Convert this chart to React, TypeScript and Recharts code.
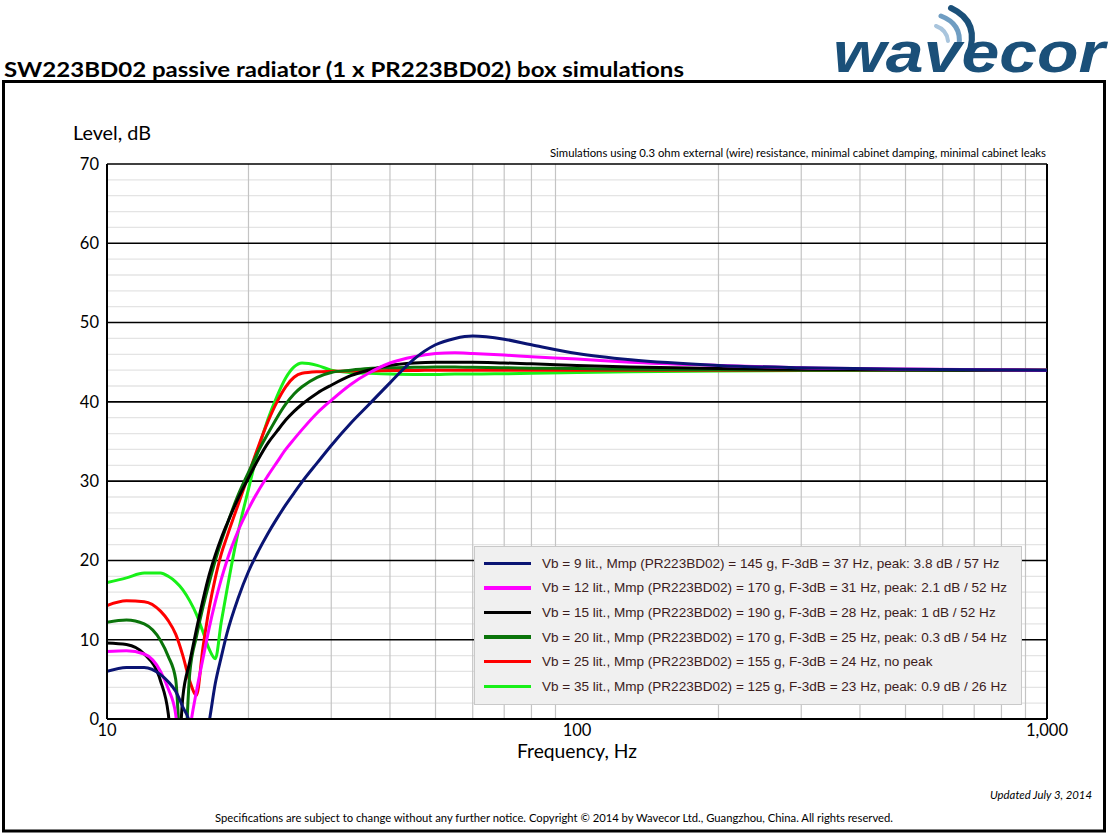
import React from 'react';
import { LineChart, Line, XAxis, YAxis, ReferenceLine, Legend } from 'recharts';

// Frequency samples (Hz)
const frequencies = [10, 11, 12, 13, 13.5, 14, 14.5, 15, 15.5, 16, 16.5, 17, 17.5, 18, 19, 20, 21, 22, 23, 24, 25, 26, 28, 30, 33, 36, 40, 45, 50, 55, 60, 70, 80, 100, 130, 200, 300, 500, 1000];

// Levels (dB) per box volume
const vb9 = [6.0, 6.5, 6.5, 5.6, 4.7, 3.5, 1.5, -0.6, -12, -4, -0.3, 4.5, 7.8, 10.8, 15.2, 18.6, 21.2, 23.4, 25.3, 27.0, 28.5, 29.9, 32.3, 34.5, 37.3, 39.6, 42.4, 45.4, 47.2, 48.0, 48.3, 47.9, 47.2, 46.1, 45.3, 44.6, 44.3, 44.1, 44.0];
const vb12 = [8.5, 8.6, 8.2, 6.0, 3.8, 0.6, -10, -1.5, 3.5, 7.6, 11.5, 14.8, 17.6, 20.0, 23.7, 26.5, 28.8, 30.7, 32.4, 34.0, 35.3, 36.5, 38.6, 40.2, 42.2, 43.6, 44.9, 45.7, 46.1, 46.2, 46.1, 45.9, 45.7, 45.4, 45.0, 44.6, 44.3, 44.15, 44.0];
const vb15 = [9.6, 9.4, 8.2, 4.8, 0.7, -10, 2.8, 7.2, 11.3, 15.0, 18.2, 20.7, 22.8, 24.6, 27.8, 30.4, 32.8, 34.8, 36.3, 37.7, 38.8, 39.7, 41.1, 42.1, 43.3, 44.0, 44.6, 44.9, 45.0, 45.0, 45.0, 44.9, 44.8, 44.6, 44.4, 44.2, 44.1, 44.05, 44.0];
const vb20 = [12.2, 12.5, 12.0, 9.9, 7.9, 5.0, -8, 5.8, 10.4, 14.1, 17.2, 20.0, 22.4, 24.5, 28.2, 31.1, 33.8, 36.0, 38.0, 39.7, 41.0, 41.9, 43.1, 43.7, 44.0, 44.2, 44.3, 44.35, 44.4, 44.4, 44.35, 44.3, 44.25, 44.2, 44.1, 44.05, 44.0, 44.0, 44.0];
const vb25 = [14.3, 14.9, 14.8, 13.6, 12.4, 10.7, 8.0, 4.8, 3.0, 9.0, 14.0, 17.8, 20.8, 23.0, 27.0, 30.8, 34.4, 37.5, 40.0, 41.9, 43.1, 43.6, 43.8, 43.85, 43.9, 43.9, 43.95, 43.95, 44.0, 44.0, 44.0, 44.0, 44.0, 44.0, 44.0, 44.0, 44.0, 44.0, 44.0];
const vb35 = [17.2, 17.8, 18.4, 18.4, 18.0, 17.3, 16.3, 14.9, 13.2, 11.0, 8.8, 7.6, 12.2, 16.3, 23.5, 29.0, 34.0, 37.8, 40.7, 43.0, 44.4, 44.9, 44.6, 44.0, 43.7, 43.6, 43.5, 43.45, 43.45, 43.5, 43.5, 43.55, 43.6, 43.7, 43.8, 43.9, 43.95, 44.0, 44.0];

const seriesKeys = ['vb9', 'vb12', 'vb15', 'vb20', 'vb25', 'vb35'];
const seriesValues = [vb9, vb12, vb15, vb20, vb25, vb35];
const seriesNames = [
  'Vb = 9 lit., Mmp (PR223BD02) = 145 g, F-3dB = 37 Hz, peak: 3.8 dB / 57 Hz',
  'Vb = 12 lit., Mmp (PR223BD02) = 170 g, F-3dB = 31 Hz, peak: 2.1 dB / 52 Hz',
  'Vb = 15 lit., Mmp (PR223BD02) = 190 g, F-3dB = 28 Hz, peak: 1 dB / 52 Hz',
  'Vb = 20 lit., Mmp (PR223BD02) = 170 g, F-3dB = 25 Hz, peak: 0.3 dB / 54 Hz',
  'Vb = 25 lit., Mmp (PR223BD02) = 155 g, F-3dB = 24 Hz, no peak',
  'Vb = 35 lit., Mmp (PR223BD02) = 125 g, F-3dB = 23 Hz, peak: 0.9 dB / 26 Hz',
];
const seriesColors = ['#0a1473', '#ff00ff', '#000000', '#0a740a', '#ff0000', '#18f018'];

const levelTicks = [0, 10, 20, 30, 40, 50, 60, 70];
const majorLevels = [10, 20, 30, 40, 50, 60, 70];
const minorLevels = [2, 4, 6, 8, 12, 14, 16, 18, 22, 24, 26, 28, 32, 34, 36, 38, 42, 44, 46, 48, 52, 54, 56, 58, 62, 64, 66, 68];
const freqTicks = [10, 100, 1000];
const freqGrid = [20, 30, 40, 50, 60, 70, 80, 90, 200, 300, 400, 500, 600, 700, 800, 900];

const data = frequencies.map((f, i) => {
  const row: Record<string, number> = { f };
  seriesKeys.forEach((k, j) => {
    row[k] = seriesValues[j][i];
  });
  return row;
});

const CAL = 'Lato, "Open Sans", sans-serif';
const ARIAL = '"Liberation Sans", Arial, sans-serif';

const LegendBox = () => (
  <div
    style={{
      width: 548,
      height: 159,
      background: '#f0f0f0',
      border: '1px solid #c9c9c9',
      boxSizing: 'border-box',
      paddingTop: 4,
    }}
  >
    {seriesNames.map((name, i) => (
      <div key={name} style={{ display: 'flex', alignItems: 'center', height: 24.6 }}>
        <div style={{ width: 47, height: 3.5, background: seriesColors[i], marginLeft: 9, marginRight: 11 }} />
        <span style={{ fontFamily: ARIAL, fontSize: 13.55, color: '#3c1c1c', whiteSpace: 'nowrap' }}>{name}</span>
      </div>
    ))}
  </div>
);

export default function App() {
  const order = [5, 4, 3, 2, 1, 0];
  return (
    <div style={{ position: 'absolute', left: 0, top: 0, width: 1113, height: 837, background: '#fff' }}>
      <svg width={1113} height={837} style={{ position: 'absolute', left: 0, top: 0 }}>
        <text x={4} y={77} fontFamily={CAL} fontWeight={700} fontSize={20} textLength={680} lengthAdjust="spacingAndGlyphs" fill="#000">
          SW223BD02 passive radiator (1 x PR223BD02) box simulations
        </text>
        {/* logo */}
        <path d="M 936 26 Q 947 30 948 41" stroke="#a9c5dd" strokeWidth={4} fill="none" strokeLinecap="round" />
        <path d="M 941 16 Q 962 24 959 45" stroke="#6f9dc2" strokeWidth={5} fill="none" strokeLinecap="round" />
        <path d="M 951 8 Q 981 22 968 56" stroke="#1b5079" strokeWidth={6} fill="none" strokeLinecap="round" />
        <text x={833} y={72} fontFamily={ARIAL} fontStyle="italic" fontWeight={700} fontSize={58} textLength={272} lengthAdjust="spacingAndGlyphs" fill="#1b5079">
          wavecor
        </text>
        <rect x={3.5} y={81.5} width={1101} height={749.5} fill="none" stroke="#000" strokeWidth={3} />
        <text x={73} y={140} fontFamily={CAL} fontSize={18.5} textLength={78} lengthAdjust="spacingAndGlyphs" fill="#000">
          Level, dB
        </text>
        <text x={1046} y={157} textAnchor="end" fontFamily={CAL} fontSize={11} textLength={496} lengthAdjust="spacingAndGlyphs" fill="#000">
          Simulations using 0.3 ohm external (wire) resistance, minimal cabinet damping, minimal cabinet leaks
        </text>
        <text x={517} y={758} fontFamily={CAL} fontSize={19.5} textLength={120} lengthAdjust="spacingAndGlyphs" fill="#000">
          Frequency, Hz
        </text>
        <text x={990} y={799} fontFamily={CAL} fontStyle="italic" fontSize={11} textLength={102} lengthAdjust="spacingAndGlyphs" fill="#000">
          Updated July 3, 2014
        </text>
        <text x={215} y={822} fontFamily={CAL} fontSize={11} textLength={678} lengthAdjust="spacingAndGlyphs" fill="#000">
          Specifications are subject to change without any further notice. Copyright © 2014 by Wavecor Ltd., Guangzhou, China. All rights reserved.
        </text>
      </svg>
      <div style={{ position: 'absolute', left: 0, top: 0 }}>
        <LineChart width={1113} height={837} data={data} margin={{ top: 164, right: 66, bottom: 88, left: 77 }}>
          <XAxis
            dataKey="f"
            type="number"
            scale="log"
            domain={[10, 1000]}
            allowDataOverflow
            ticks={freqTicks}
            tickFormatter={(v: number) => v.toLocaleString('en-US')}
            tickLine={false}
            tickSize={0}
            tickMargin={5}
            height={30}
            axisLine={{ stroke: '#000', strokeWidth: 2 }}
            tick={{ fill: '#000', fontFamily: CAL, fontSize: 16.5 }}
          />
          <YAxis
            type="number"
            domain={[0, 70]}
            allowDataOverflow
            ticks={levelTicks}
            tickLine={false}
            tickSize={0}
            tickMargin={8}
            width={30}
            axisLine={{ stroke: '#000', strokeWidth: 2 }}
            tick={{ fill: '#000', fontFamily: CAL, fontSize: 16.5 }}
          />
          {minorLevels.map((v) => (
            <ReferenceLine key={'mn' + v} y={v} stroke="#e4e4e4" strokeWidth={1.3} zIndex={-60} />
          ))}
          {freqGrid.map((v) => (
            <ReferenceLine key={'fg' + v} x={v} stroke="#c4c4c4" strokeWidth={1.2} zIndex={-55} />
          ))}
          {majorLevels.map((v) => (
            <ReferenceLine key={'mj' + v} y={v} stroke="#000" strokeWidth={1.6} zIndex={-50} />
          ))}
          <ReferenceLine x={1000} stroke="#000" strokeWidth={2} zIndex={-50} />
          {order.map((j) => (
            <Line
              key={seriesKeys[j]}
              dataKey={seriesKeys[j]}
              name={seriesNames[j]}
              stroke={seriesColors[j]}
              strokeWidth={3}
              type="monotone"
              dot={false}
              activeDot={false}
              isAnimationActive={false}
            />
          ))}
          <Legend
            layout="horizontal"
            verticalAlign="middle"
            align="center"
            content={() => <LegendBox />}
            wrapperStyle={{ left: 474, top: 546, width: 548, height: 159 }}
          />
        </LineChart>
      </div>
    </div>
  );
}
